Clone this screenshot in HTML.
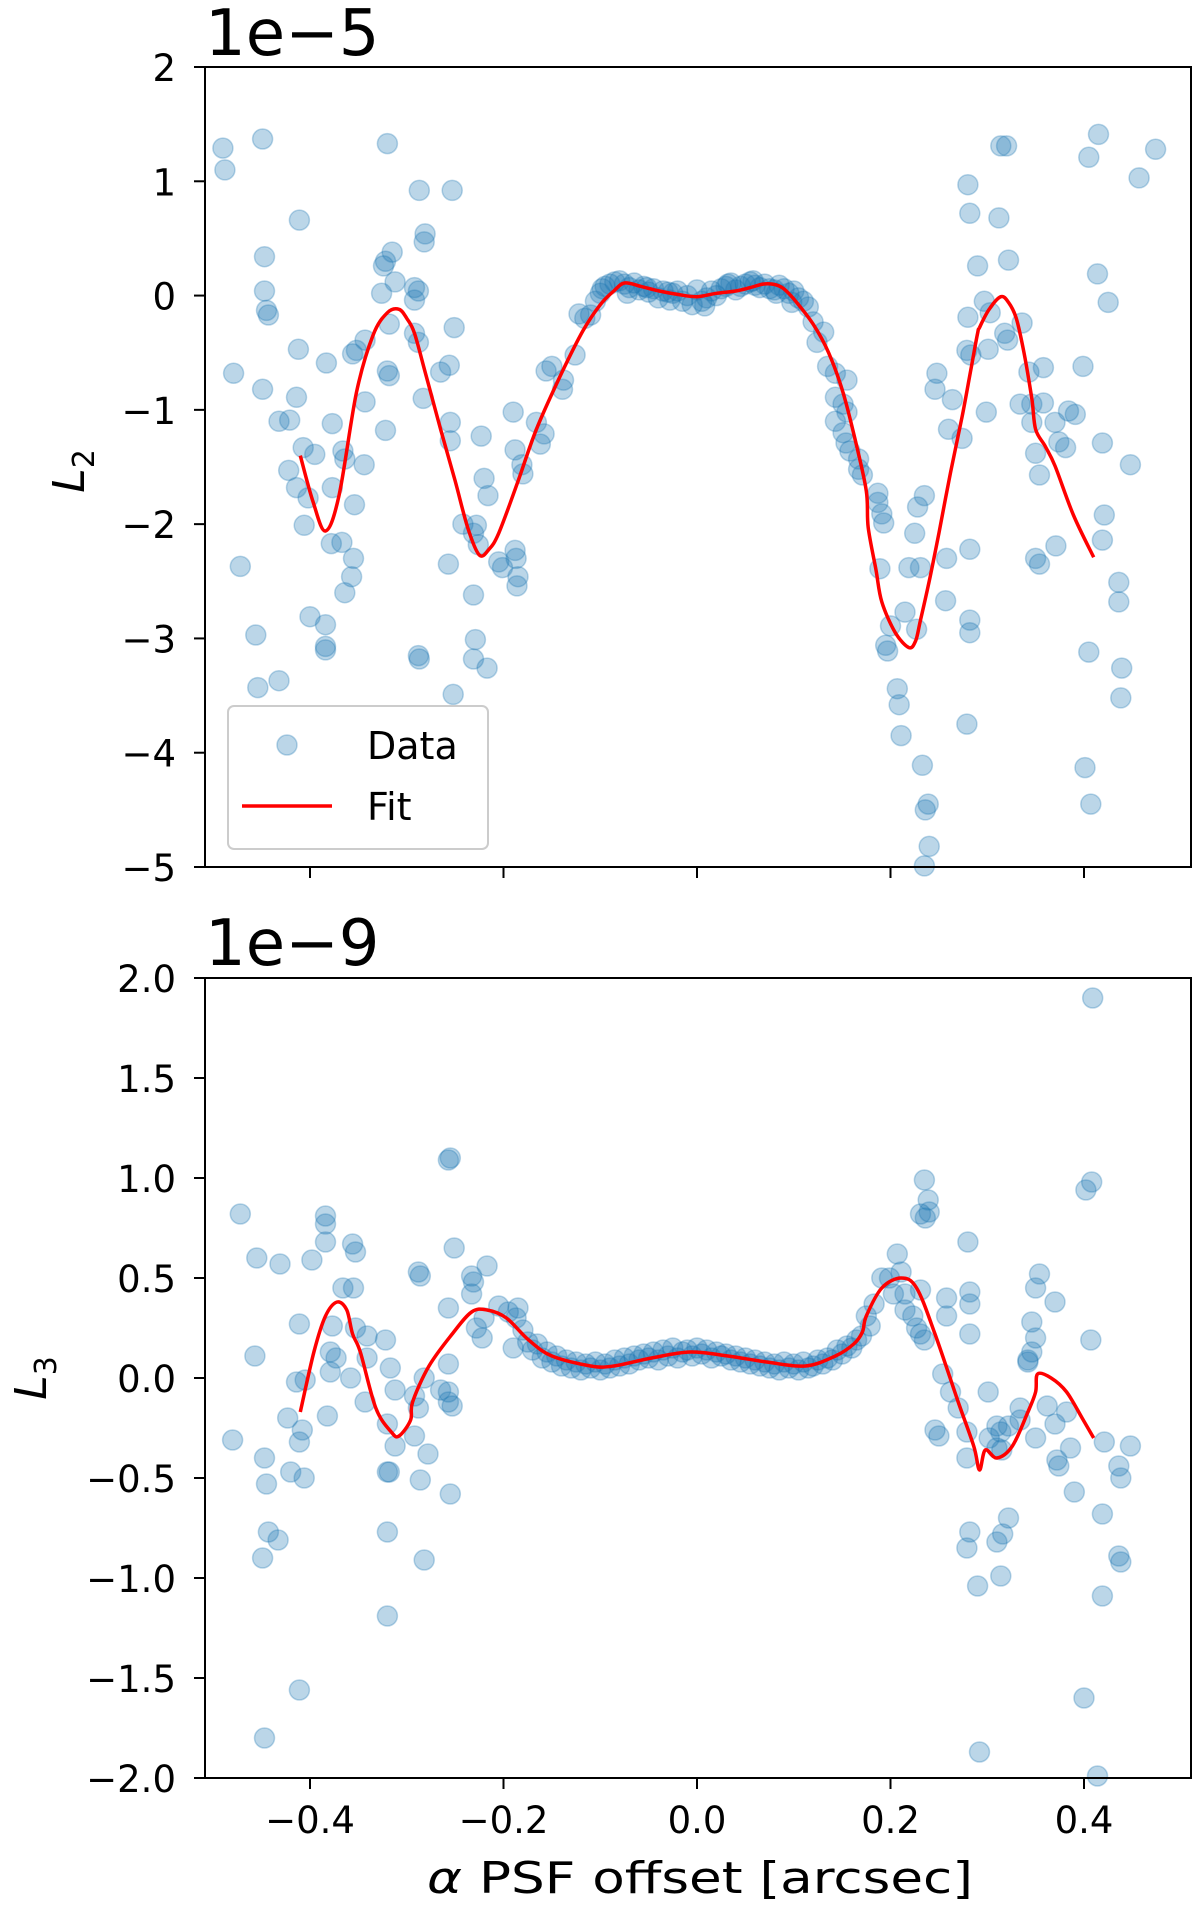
<!DOCTYPE html>
<html><head><meta charset="utf-8"><style>
html,body{margin:0;padding:0;background:#fff}
svg{display:block;font-family:"DejaVu Sans","Liberation Sans",sans-serif}
</style></head><body>
<svg id="fig" width="1200" height="1913" viewBox="0 0 1200 1913">
<g id="top"></g>
<g id="bot"></g>
</svg>
<script>
const xTicks = [-0.4, -0.2, 0.0, 0.2, 0.4];
const xTickLabels = ["\u22120.4", "\u22120.2", "0.0", "0.2", "0.4"];
const topYTicks = [2, 1, 0, -1, -2, -3, -4, -5];
const topYTickLabels = ["2", "1", "0", "\u22121", "\u22122", "\u22123", "\u22124", "\u22125"];
const botYTicks = [2, 1.5, 1, 0.5, 0, -0.5, -1, -1.5, -2];
const botYTickLabels = ["2.0", "1.5", "1.0", "0.5", "0.0", "\u22120.5", "\u22121.0", "\u22121.5", "\u22122.0"];

const topDataX = [-0.49,-0.488,-0.449,-0.479,-0.472,-0.456,-0.454,-0.432,-0.447,-0.447,-0.445,-0.443,-0.449,-0.411,-0.412,-0.414,-0.432,-0.421,-0.407,-0.395,-0.422,-0.414,-0.402,-0.406,-0.4,-0.384,-0.384,-0.384,-0.383,-0.377,-0.377,-0.366,-0.364,-0.344,-0.354,-0.378,-0.367,-0.355,-0.357,-0.364,-0.356,-0.352,-0.343,-0.343,-0.324,-0.322,-0.315,-0.32,-0.326,-0.312,-0.318,-0.32,-0.318,-0.322,-0.292,-0.288,-0.292,-0.287,-0.281,-0.282,-0.292,-0.288,-0.283,-0.288,-0.287,-0.253,-0.251,-0.265,-0.256,-0.255,-0.255,-0.252,-0.257,-0.231,-0.229,-0.231,-0.217,-0.242,-0.228,-0.231,-0.22,-0.216,-0.223,-0.226,-0.205,-0.201,-0.19,-0.188,-0.188,-0.187,-0.185,-0.186,-0.181,-0.18,-0.166,-0.162,-0.158,-0.156,-0.15,-0.139,-0.138,-0.126,-0.122,-0.116,-0.11,
-0.105,-0.1,-0.095,-0.09,-0.085,-0.08,-0.075,-0.07,-0.065,-0.06,-0.055,-0.05,-0.045,-0.04,-0.035,-0.03,-0.025,-0.02,-0.015,-0.01,-0.005,0,0.005,0.01,0.015,0.02,0.025,0.03,0.035,0.04,0.045,0.05,0.055,0.06,0.065,0.07,0.075,0.08,0.085,0.09,0.095,0.1,0.105,0.11,0.115,-0.098,-0.072,-0.052,-0.028,0.008,0.032,0.058,0.082,0.098,
0.12,0.131,0.124,0.143,0.155,0.135,0.143,0.151,0.155,0.143,0.151,0.154,0.158,0.167,0.167,0.171,0.187,0.187,0.191,0.193,0.189,0.195,0.197,0.2,0.207,0.209,0.211,0.225,0.228,0.235,0.215,0.227,0.219,0.231,0.233,0.239,0.236,0.24,0.235,0.248,0.246,0.264,0.26,0.274,0.258,0.257,0.28,0.282,0.29,0.28,0.279,0.283,0.282,0.282,0.282,0.279,0.297,0.303,0.301,0.299,0.312,0.314,0.32,0.322,0.318,0.321,0.336,0.343,0.346,0.346,0.334,0.358,0.358,0.35,0.354,0.37,0.374,0.35,0.354,0.371,0.384,0.391,0.381,0.399,0.405,0.415,0.405,0.401,0.407,0.414,0.425,0.419,0.421,0.419,0.436,0.436,0.439,0.438,0.448,0.457,0.474];
const topDataY = [1.29,1.10,1.37,-0.68,-2.37,-2.97,-3.43,-3.37,0.34,0.04,-0.13,-0.17,-0.82,0.66,-0.47,-0.89,-1.10,-1.09,-1.33,-1.39,-1.53,-1.68,-1.77,-2.01,-2.81,-2.88,-3.07,-3.10,-0.59,-1.12,-1.68,-1.36,-1.43,-1.48,-1.83,-2.17,-2.16,-2.30,-2.46,-2.60,-0.51,-0.48,-0.39,-0.93,0.26,0.30,0.38,1.33,0.02,0.12,-0.25,-0.66,-0.70,-1.18,0.07,0.04,-0.04,0.92,0.54,0.47,-0.33,-0.41,-0.90,-3.15,-3.18,0.92,-0.28,-0.67,-0.61,-1.11,-1.27,-3.49,-2.35,-2.62,-3.01,-3.18,-3.26,-2.0,-2.01,-2.08,-1.6,-1.75,-1.23,-2.18,-2.33,-2.38,-1.02,-1.35,-2.23,-2.30,-2.46,-2.54,-1.48,-1.56,-1.11,-1.30,-1.21,-0.66,-0.62,-0.82,-0.74,-0.52,-0.16,-0.2,-0.17,
-0.05,0.02,0.08,0.10,0.12,0.13,0.10,0.07,0.11,0.05,0.08,0.03,0.06,-0.02,0.04,0.03,0.02,0.04,-0.05,0.0,-0.08,0.05,-0.05,-0.02,0.04,0.0,0.06,0.08,0.11,0.05,0.08,0.10,0.12,0.09,0.07,0.10,0.06,0.05,0.09,0.06,0.02,0.04,-0.02,-0.05,-0.10,0.06,0.02,0.07,-0.04,-0.09,0.10,0.13,0.02,-0.06,
-0.23,-0.32,-0.41,-0.68,-0.74,-0.62,-0.89,-0.95,-1.02,-1.1,-1.2,-1.29,-1.36,-1.43,-1.52,-1.57,-1.73,-1.81,-1.91,-1.99,-2.39,-3.06,-3.11,-2.89,-3.44,-3.58,-3.85,-2.08,-1.85,-1.75,-2.77,-2.92,-2.38,-2.38,-4.11,-4.45,-4.5,-4.82,-4.99,-0.68,-0.82,-0.91,-1.17,-1.25,-2.3,-2.67,0.97,0.72,0.26,-0.19,-0.48,-0.52,-2.22,-2.84,-2.95,-3.75,-0.05,-0.15,-0.47,-1.02,0.68,1.31,1.31,0.31,-0.33,-0.39,-0.24,-0.67,-0.95,-1.11,-0.95,-0.63,-0.94,-1.38,-1.57,-1.11,-1.28,-2.3,-2.35,-2.19,-1.01,-1.04,-1.33,-0.62,1.21,1.41,-3.12,-4.13,-4.45,0.19,-0.06,-1.29,-1.92,-2.14,-2.51,-2.68,-3.26,-3.52,-1.48,1.03,1.28];
const topFitX = [-0.41,-0.397,-0.384,-0.37,-0.352,-0.335,-0.32,-0.308,-0.3,-0.292,-0.28,-0.265,-0.25,-0.237,-0.225,-0.215,-0.205,-0.186,-0.166,-0.14,-0.118,-0.1,-0.086,-0.075,-0.058,-0.039,-0.02,0.0,0.02,0.04,0.055,0.068,0.078,0.088,0.1,0.12,0.136,0.151,0.164,0.175,0.177,0.185,0.191,0.205,0.219,0.226,0.231,0.24,0.25,0.262,0.274,0.283,0.29,0.292,0.302,0.314,0.322,0.33,0.338,0.346,0.35,0.36,0.37,0.389,0.41];
const topFitY = [-1.40,-1.8,-2.06,-1.75,-0.85,-0.35,-0.15,-0.12,-0.2,-0.33,-0.7,-1.17,-1.62,-2.03,-2.27,-2.22,-2.08,-1.65,-1.17,-0.68,-0.31,-0.08,0.04,0.11,0.08,0.04,0.01,-0.01,0.02,0.04,0.07,0.1,0.1,0.07,-0.03,-0.25,-0.5,-0.85,-1.28,-1.71,-2.03,-2.4,-2.68,-2.95,-3.08,-3.02,-2.84,-2.5,-2.08,-1.55,-1.06,-0.65,-0.33,-0.28,-0.12,-0.01,-0.06,-0.2,-0.5,-0.9,-1.17,-1.32,-1.49,-1.92,-2.29];

const botDataX = [-0.48,-0.472,-0.455,-0.431,-0.457,-0.447,-0.445,-0.443,-0.449,-0.433,-0.447,-0.423,-0.42,-0.411,-0.414,-0.405,-0.411,-0.408,-0.411,-0.406,-0.398,-0.384,-0.384,-0.384,-0.382,-0.377,-0.379,-0.373,-0.379,-0.366,-0.355,-0.356,-0.353,-0.358,-0.353,-0.341,-0.341,-0.343,-0.322,-0.317,-0.312,-0.32,-0.312,-0.32,-0.318,-0.32,-0.32,-0.288,-0.286,-0.292,-0.288,-0.292,-0.282,-0.278,-0.286,-0.282,-0.265,-0.257,-0.253,-0.257,-0.257,-0.257,-0.257,-0.255,-0.251,-0.255,-0.233,-0.231,-0.233,-0.217,-0.228,-0.22,-0.222,-0.205,-0.195,-0.187,-0.185,-0.19,-0.18,
-0.175,-0.17,-0.165,-0.16,-0.155,-0.15,-0.145,-0.14,-0.135,-0.13,-0.125,-0.12,-0.115,-0.11,-0.105,-0.1,-0.095,-0.09,-0.085,-0.08,-0.075,-0.07,-0.065,-0.06,-0.055,-0.05,-0.045,-0.04,-0.035,-0.03,-0.025,-0.02,-0.015,-0.01,-0.005,0,0.005,0.01,0.015,0.02,0.025,0.03,0.035,0.04,0.045,0.05,0.055,0.06,0.065,0.07,0.075,0.08,0.085,0.09,0.095,0.1,0.105,0.11,0.115,0.12,0.125,0.13,0.135,0.14,0.145,0.15,0.155,0.16,0.165,0.17,
0.175,0.179,0.183,0.191,0.199,0.207,0.211,0.215,0.203,0.215,0.223,0.227,0.231,0.235,0.235,0.239,0.231,0.236,0.24,0.231,0.258,0.258,0.254,0.262,0.27,0.25,0.246,0.28,0.282,0.282,0.282,0.279,0.279,0.282,0.279,0.29,0.292,0.301,0.302,0.31,0.314,0.322,0.31,0.315,0.31,0.316,0.322,0.314,0.334,0.334,0.342,0.346,0.346,0.35,0.342,0.35,0.354,0.35,0.362,0.37,0.37,0.372,0.374,0.386,0.382,0.39,0.4,0.402,0.408,0.407,0.409,0.414,0.421,0.419,0.419,0.436,0.438,0.436,0.438,0.448];
const botDataY = [-0.31,0.82,0.60,0.57,0.11,-0.40,-0.53,-0.77,-0.90,-0.81,-1.80,-0.20,-0.47,-1.56,-0.02,-0.01,0.27,-0.26,-0.32,-0.50,0.59,0.81,0.77,0.68,-0.19,0.26,0.13,0.10,0.03,0.45,0.45,0.67,0.63,0.0,0.25,0.21,0.10,-0.12,0.19,0.05,-0.06,-0.23,-0.34,-0.47,-0.47,-0.77,-1.19,0.53,0.51,-0.09,-0.15,-0.29,0.0,-0.38,-0.51,-0.91,-0.06,-0.07,-0.14,-0.12,0.07,0.35,1.09,1.10,0.65,-0.58,0.51,0.48,0.42,0.56,0.25,0.30,0.20,0.36,0.33,0.30,0.35,0.15,0.24,
0.18,0.14,0.17,0.10,0.13,0.08,0.11,0.06,0.09,0.05,0.08,0.04,0.07,0.05,0.08,0.04,0.07,0.05,0.09,0.06,0.10,0.07,0.11,0.09,0.12,0.10,0.13,0.09,0.14,0.11,0.15,0.10,0.13,0.14,0.11,0.15,0.12,0.14,0.10,0.13,0.11,0.12,0.09,0.11,0.08,0.10,0.07,0.09,0.06,0.08,0.05,0.07,0.04,0.08,0.05,0.07,0.04,0.08,0.05,0.06,0.09,0.07,0.10,0.09,0.14,0.12,0.16,0.15,0.19,0.21,
0.31,0.26,0.37,0.50,0.50,0.62,0.53,0.42,0.42,0.34,0.31,0.25,0.22,0.19,0.99,0.89,0.82,0.80,0.83,0.44,0.40,0.31,0.02,-0.07,-0.15,-0.29,-0.26,0.68,0.43,0.37,0.22,-0.27,-0.40,-0.77,-0.85,-1.04,-1.87,-0.07,-0.30,-0.24,-0.27,-0.24,-0.35,-0.36,-0.82,-0.78,-0.70,-0.99,-0.15,-0.21,0.09,0.13,0.28,0.20,0.08,0.45,0.52,-0.30,-0.14,0.38,-0.23,-0.41,-0.44,-0.35,-0.17,-0.57,-1.60,0.94,0.98,0.19,1.90,-1.99,-0.32,-0.68,-1.09,-0.44,-0.50,-0.89,-0.92,-0.34];
const botFitX = [-0.41,-0.396,-0.384,-0.372,-0.362,-0.356,-0.348,-0.332,-0.316,-0.308,-0.296,-0.294,-0.277,-0.253,-0.233,-0.217,-0.197,-0.174,-0.15,-0.11,-0.086,-0.047,-0.007,0.032,0.072,0.112,0.143,0.162,0.171,0.175,0.191,0.211,0.227,0.246,0.27,0.286,0.292,0.298,0.31,0.326,0.342,0.35,0.352,0.366,0.382,0.398,0.41];
const botFitY = [-0.17,0.13,0.31,0.38,0.34,0.22,0.13,-0.15,-0.27,-0.29,-0.21,-0.12,0.06,0.22,0.33,0.34,0.30,0.19,0.11,0.06,0.06,0.10,0.13,0.11,0.08,0.06,0.11,0.17,0.23,0.31,0.45,0.50,0.45,0.22,-0.12,-0.34,-0.46,-0.36,-0.40,-0.34,-0.17,-0.07,0.02,0.0,-0.07,-0.2,-0.3];

const NS = "http://www.w3.org/2000/svg";
const L = 205, R = 1191;
const xs = v => 697 + v * 967.5;
function mk(tag, attrs, parent, text){
  const e = document.createElementNS(NS, tag);
  for (const k in attrs) e.setAttribute(k, attrs[k]);
  if (text !== undefined) e.textContent = text;
  parent.appendChild(e); return e;
}
function smoothPath(P){
  let d = 'M' + P[0][0].toFixed(1) + ',' + P[0][1].toFixed(1);
  for (let i = 0; i < P.length - 1; i++){
    const p0 = P[i - 1] || P[i], p1 = P[i], p2 = P[i + 1], p3 = P[i + 2] || p2;
    const c1x = p1[0] + (p2[0] - p0[0]) / 6, c1y = p1[1] + (p2[1] - p0[1]) / 6;
    const c2x = p2[0] - (p3[0] - p1[0]) / 6, c2y = p2[1] - (p3[1] - p1[1]) / 6;
    d += ' C' + c1x.toFixed(1) + ',' + c1y.toFixed(1) + ' ' + c2x.toFixed(1) + ',' + c2y.toFixed(1) + ' ' + p2[0].toFixed(1) + ',' + p2[1].toFixed(1);
  }
  return d;
}
function panel(g, top, bottom, ymax, ymin, yT, yTL, dx, dy, fx, fy, showXLabels, name){
  const ys = v => top + (ymax - v) / (ymax - ymin) * (bottom - top);
  const pts = mk('g', {}, g);
  
  
  for (let i = 0; i < dx.length; i++){
    const c = mk('circle', {cx: xs(dx[i]).toFixed(1), cy: ys(dy[i]).toFixed(1), r: 10, fill: '#1f77b4', 'fill-opacity': 0.3, stroke: '#1f77b4', 'stroke-opacity': 0.3, 'stroke-width': 1.5}, pts);
    
    
  }
  const P = fx.map((v, i) => [xs(v), ys(fy[i])]);
  const line = mk('path', {d: smoothPath(P), fill: 'none', stroke: '#ff0000', 'stroke-width': 3.5, 'stroke-linejoin': 'round'}, g);
  
  
  const frame = mk('rect', {x: L, y: top, width: R - L, height: bottom - top, fill: 'none', stroke: '#000', 'stroke-width': 2}, g);
  
  
  for (let i = 0; i < yT.length; i++){
    const y = ys(yT[i]);
    mk('line', {x1: L - 11, x2: L, y1: y, y2: y, stroke: '#000', 'stroke-width': 2}, g);
    const t = mk('text', {x: 176, y: y + 14, 'text-anchor': 'end', 'font-size': 37, fill: '#000'}, g, yTL[i]);
    
    
  }
  for (let i = 0; i < xTicks.length; i++){
    const x = xs(xTicks[i]);
    mk('line', {x1: x, x2: x, y1: bottom, y2: bottom + 11, stroke: '#000', 'stroke-width': 2}, g);
    if (showXLabels){
      const t = mk('text', {x: x, y: bottom + 55, 'text-anchor': 'middle', 'font-size': 37, fill: '#000'}, g, xTickLabels[i]);
      
      
    }
  }
}
const gt = document.getElementById('top'), gb = document.getElementById('bot');
panel(gt, 67, 867, 2, -5, topYTicks, topYTickLabels, topDataX, topDataY, topFitX, topFitY, false, 'l2');
panel(gb, 978, 1778, 2, -2, botYTicks, botYTickLabels, botDataX, botDataY, botFitX, botFitY, true, 'l3');
</script>
<script>
(function(){
const NS = "http://www.w3.org/2000/svg";
const svg = document.getElementById('fig');
function mk(tag, attrs, text){
  const e = document.createElementNS(NS, tag);
  for (const k in attrs) e.setAttribute(k, attrs[k]);
  if (text !== undefined) e.textContent = text;
  svg.appendChild(e); return e;
}
let t = mk('text', {x: 205, y: 55, 'font-size': 64, fill: '#000'}, '1e\u22125');


t = mk('text', {x: 205, y: 965, 'font-size': 64, fill: '#000'}, '1e\u22129');


t = mk('text', {x: 700, y: 1893, 'text-anchor': 'middle', 'font-size': 44, fill: '#000', textLength: 546, lengthAdjust: 'spacingAndGlyphs'});
t.innerHTML = '<tspan font-style="italic">\u03b1</tspan> PSF offset [arcsec]';


t = mk('text', {transform: 'translate(84,471) rotate(-90)', 'text-anchor': 'middle', 'font-size': 44, fill: '#000'});
t.innerHTML = '<tspan font-style="italic">L</tspan><tspan font-size="30" dy="10">2</tspan>';


t = mk('text', {transform: 'translate(46,1378) rotate(-90)', 'text-anchor': 'middle', 'font-size': 44, fill: '#000'});
t.innerHTML = '<tspan font-style="italic">L</tspan><tspan font-size="30" dy="10">3</tspan>';


const lg = mk('rect', {x: 228, y: 706, width: 260, height: 143, rx: 6, fill: '#fff', 'fill-opacity': 0.8, stroke: '#cccccc', 'stroke-width': 2});


const c = mk('circle', {cx: 287, cy: 745, r: 10, fill: '#1f77b4', 'fill-opacity': 0.3, stroke: '#1f77b4', 'stroke-opacity': 0.3, 'stroke-width': 1.5});


t = mk('text', {x: 367, y: 759, 'font-size': 38, fill: '#000'}, 'Data');


const ln = mk('line', {x1: 242, x2: 332, y1: 806, y2: 806, stroke: '#ff0000', 'stroke-width': 3.5});


t = mk('text', {x: 367, y: 820, 'font-size': 38, fill: '#000'}, 'Fit');


})();
</script>
</body></html>
